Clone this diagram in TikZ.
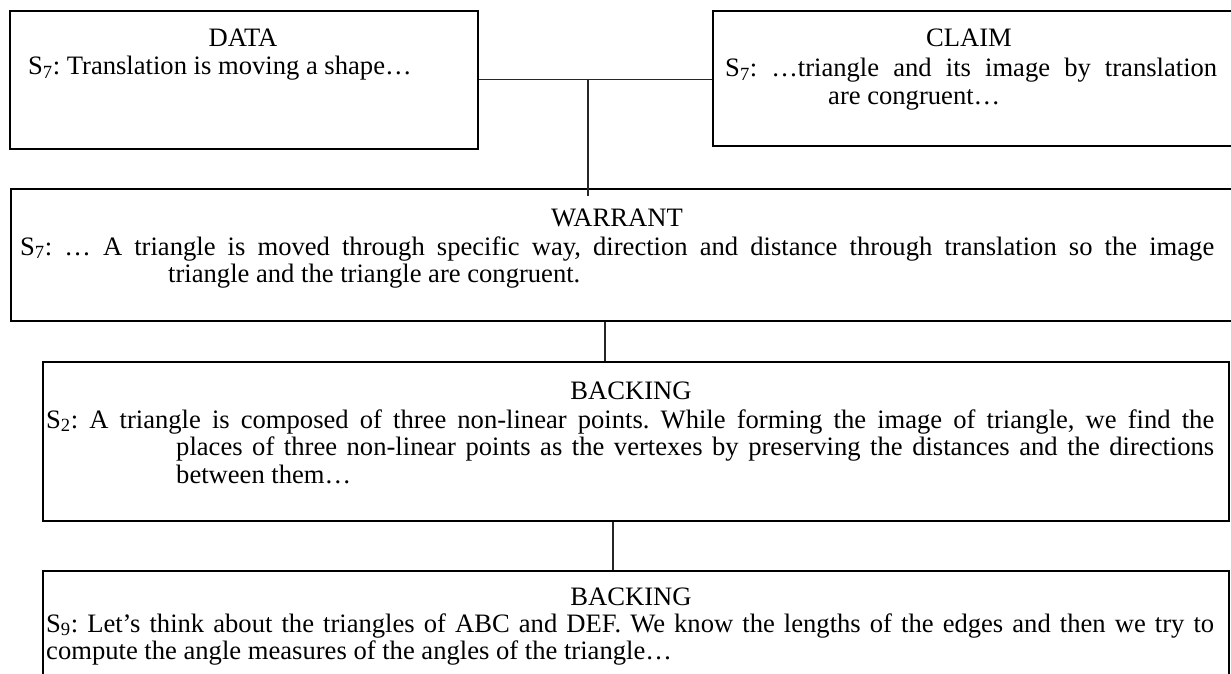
\documentclass[tikz,border=0pt]{standalone}
\usepackage{fontspec}
\setmainfont{Liberation Serif}
\newcommand{\txtsize}{\fontsize{26.6}{27.5}\selectfont\frenchspacing}
\begin{document}
\begin{tikzpicture}[x=1pt,y=-1pt,
  box/.style={draw=black,line width=1.8pt,inner sep=0pt,anchor=north west},
  conn/.style={draw=black!85,line width=1.2pt},
  hdr/.style={anchor=base,inner sep=0pt,font=\txtsize},
  body/.style={anchor=base west,inner sep=0pt,font=\txtsize}]
\useasboundingbox (0,0) rectangle (1231,674);
\clip (0,0) rectangle (1231,674);
% boxes
\node[box,minimum width=468pt,minimum height=138pt] (data) at (9,10) {};
\node[box,minimum width=530pt,minimum height=135pt] (claim) at (712,10) {};
\node[box,minimum width=1230pt,minimum height=132pt] (warrant) at (10,188) {};
\node[box,minimum width=1186pt,minimum height=159pt] (backA) at (42,361) {};
\node[box,minimum width=1186pt,minimum height=140pt] (backB) at (42,570) {};
% texts
\node[hdr] (dataH) at (243,47) {DATA};
\node[body] (dataT) at (28,75) {S\textsubscript{7}: Translation is moving a shape…};
\node[hdr] (claimH) at (969,47) {CLAIM};
\node[body] (claimT) at (725,77) {\parbox[t]{492pt}{\makebox[492pt][s]{S\textsubscript{7}: …triangle and its image by translation}\\
\hspace*{103pt}are congruent…}};
\node[hdr] (warrantH) at (617,226) {WARRANT};
\node[body] (warrantT) at (20,255) {\parbox[t]{1194pt}{\makebox[1194pt][s]{S\textsubscript{7}: … A triangle is moved through specific way, direction and distance through translation so the image}\\
\hspace*{148pt}triangle and the triangle are congruent.}};
\node[hdr] (backAH) at (631,399) {BACKING};
\node[body] (backAT) at (46,428) {\parbox[t]{1168pt}{\makebox[1168pt][s]{S\textsubscript{2}: A triangle is composed of three non-linear points. While forming the image of triangle, we find the}\\
\hspace*{130pt}\makebox[1038pt][s]{places of three non-linear points as the vertexes by preserving the distances and the directions}\\
\hspace*{130pt}between them…}};
\node[hdr] (backBH) at (631,605) {BACKING};
\node[body] (backBT) at (46,632) {\parbox[t]{1168pt}{\makebox[1168pt][s]{S\textsubscript{9}: Let’s think about the triangles of ABC and DEF. We know the lengths of the edges and then we try to}\\
compute the angle measures of the angles of the triangle…}};
% connectors
\coordinate (j) at (588,0);
\coordinate (j2) at (605,0);
\coordinate (j3) at (613,0);
\draw[conn] (data.east) -- (data.east -| claim.west);
\draw[conn] (data.east -| j) -- ([yshift=-8pt]warrant.north -| j);
\draw[conn] (warrant.south -| j2) -- (backA.north -| j2);
\draw[conn] (backA.south -| j3) -- (backB.north -| j3);
\end{tikzpicture}
\end{document}
